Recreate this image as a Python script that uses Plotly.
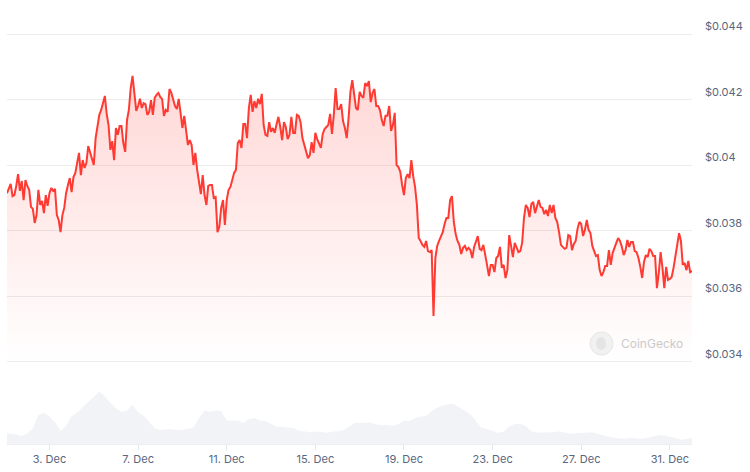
import plotly.graph_objects as go
import pandas as pd

# ---------------- data ----------------
price_start = "2023-12-01 02:00"
price_step = "2h"
prices = [
    0.03915, 0.03928, 0.03943, 0.03906, 0.03909, 0.03937, 0.03973, 0.03922, 0.03952, 0.03894,
    0.03955, 0.03937, 0.03925, 0.03873, 0.03867, 0.03824, 0.03848, 0.03925, 0.03879, 0.03891,
    0.03854, 0.03909, 0.03876, 0.03915, 0.03931, 0.03922, 0.03928, 0.03848, 0.03833, 0.03796,
    0.03848, 0.03870, 0.03915, 0.03940, 0.03961, 0.03918, 0.03964, 0.03977, 0.04010, 0.04038,
    0.03970, 0.04016, 0.03992, 0.04007, 0.04059, 0.04038, 0.04022, 0.04001, 0.04083, 0.04120,
    0.04154, 0.04169, 0.04190, 0.04212, 0.04157, 0.04123, 0.04047, 0.04074, 0.04016, 0.04114,
    0.04093, 0.04120, 0.04120, 0.04068, 0.04041, 0.04138, 0.04169, 0.04236, 0.04273, 0.04209,
    0.04166, 0.04181, 0.04203, 0.04175, 0.04190, 0.04187, 0.04154, 0.04163, 0.04199, 0.04154,
    0.04206, 0.04215, 0.04221, 0.04209, 0.04203, 0.04151, 0.04169, 0.04163, 0.04233, 0.04221,
    0.04199, 0.04181, 0.04172, 0.04203, 0.04160, 0.04114, 0.04151, 0.04108, 0.04062, 0.04077,
    0.04062, 0.04001, 0.04038, 0.03986, 0.03949, 0.03912, 0.03970, 0.03909, 0.03879, 0.03937,
    0.03940, 0.03940, 0.03900, 0.03903, 0.03796, 0.03812, 0.03870, 0.03894, 0.03818, 0.03894,
    0.03925, 0.03934, 0.03955, 0.03977, 0.03986, 0.04068, 0.04077, 0.04053, 0.04126, 0.04126,
    0.04083, 0.04175, 0.04215, 0.04163, 0.04196, 0.04175, 0.04203, 0.04187, 0.04218, 0.04123,
    0.04093, 0.04090, 0.04132, 0.04102, 0.04114, 0.04099, 0.04126, 0.04148, 0.04117, 0.04077,
    0.04132, 0.04117, 0.04080, 0.04093, 0.04148, 0.04099, 0.04099, 0.04154, 0.04151, 0.04132,
    0.04083, 0.04065, 0.04044, 0.04022, 0.04031, 0.04071, 0.04038, 0.04099, 0.04080, 0.04068,
    0.04053, 0.04096, 0.04111, 0.04117, 0.04123, 0.04157, 0.04096, 0.04154, 0.04236, 0.04172,
    0.04172, 0.04187, 0.04135, 0.04114, 0.04083, 0.04144, 0.04224, 0.04260, 0.04221, 0.04175,
    0.04169, 0.04224, 0.04212, 0.04206, 0.04251, 0.04242, 0.04257, 0.04193, 0.04221, 0.04233,
    0.04181, 0.04181, 0.04169, 0.04138, 0.04120, 0.04151, 0.04151, 0.04181, 0.04105, 0.04123,
    0.04160, 0.04001, 0.03995, 0.03980, 0.03940, 0.03909, 0.03961, 0.03973, 0.03961, 0.04016,
    0.03967, 0.03934, 0.03879, 0.03778, 0.03769, 0.03757, 0.03751, 0.03769, 0.03738, 0.03735,
    0.03741, 0.03540, 0.03717, 0.03754, 0.03769, 0.03784, 0.03796, 0.03821, 0.03839, 0.03839,
    0.03894, 0.03906, 0.03827, 0.03790, 0.03769, 0.03757, 0.03729, 0.03748, 0.03754, 0.03741,
    0.03748, 0.03741, 0.03717, 0.03751, 0.03766, 0.03784, 0.03745, 0.03741, 0.03757, 0.03720,
    0.03696, 0.03662, 0.03696, 0.03696, 0.03674, 0.03717, 0.03723, 0.03751, 0.03687, 0.03696,
    0.03656, 0.03680, 0.03787, 0.03754, 0.03720, 0.03763, 0.03748, 0.03735, 0.03738, 0.03763,
    0.03839, 0.03879, 0.03870, 0.03842, 0.03882, 0.03888, 0.03854, 0.03879, 0.03894, 0.03873,
    0.03870, 0.03851, 0.03864, 0.03845, 0.03879, 0.03854, 0.03879, 0.03839, 0.03827, 0.03796,
    0.03757, 0.03751, 0.03745, 0.03748, 0.03787, 0.03784, 0.03741, 0.03760, 0.03769, 0.03806,
    0.03827, 0.03821, 0.03784, 0.03803, 0.03833, 0.03803, 0.03793, 0.03754, 0.03741, 0.03723,
    0.03726, 0.03680, 0.03662, 0.03674, 0.03693, 0.03693, 0.03741, 0.03696, 0.03732, 0.03751,
    0.03763, 0.03778, 0.03769, 0.03751, 0.03726, 0.03741, 0.03772, 0.03751, 0.03766, 0.03766,
    0.03738, 0.03735, 0.03717, 0.03690, 0.03656, 0.03705, 0.03726, 0.03720, 0.03745, 0.03738,
    0.03723, 0.03723, 0.03625, 0.03671, 0.03735, 0.03687, 0.03625, 0.03690, 0.03650, 0.03653,
    0.03659, 0.03687, 0.03726, 0.03769, 0.03793, 0.03769, 0.03696, 0.03702, 0.03680, 0.03708,
    0.03674, 0.03677,
]

volume_start = "2023-12-01 00:00"
volume_step = "6h"
volumes = [
    110, 105, 95, 80, 105, 155, 290, 310, 275, 220,
    130, 180, 280, 315, 370, 425, 470, 525, 475, 410,
    360, 320, 335, 390, 320, 285, 220, 155, 140, 143,
    150, 140, 140, 153, 165, 260, 335, 320, 335, 330,
    235, 235, 235, 210, 250, 260, 235, 227, 200, 175,
    170, 165, 160, 135, 123, 117, 123, 125, 113, 120,
    130, 138, 170, 210, 210, 215, 215, 195, 190, 193,
    180, 200, 235, 230, 260, 275, 280, 330, 365, 385,
    400, 400, 365, 325, 298, 230, 163, 150, 128, 110,
    125, 175, 202, 200, 180, 125, 115, 112, 116, 120,
    126, 115, 103, 107, 110, 113, 117, 100, 85, 73,
    63, 53, 56, 60, 56, 50, 63, 77, 90, 85,
    74, 60, 43, 50, 60,
]

x_tick_dates = ["2023-12-03", "2023-12-07", "2023-12-11", "2023-12-15",
                "2023-12-19", "2023-12-23", "2023-12-27", "2023-12-31"]
x_tick_labels = ["3. Dec", "7. Dec", "11. Dec", "15. Dec",
                 "19. Dec", "23. Dec", "27. Dec", "31. Dec"]
y_tick_values = [0.034, 0.036, 0.038, 0.040, 0.042, 0.044]
y_tick_labels = ["$0.034", "$0.036", "$0.038", "$0.04", "$0.042", "$0.044"]

# ---------------- figure ----------------
price_times = pd.date_range(price_start, periods=len(prices), freq=price_step)
volume_times = pd.date_range(volume_start, periods=len(volumes), freq=volume_step)

LINE = "#ff3a33"
TXT = "#58667e"
GRID = "#ececec"
FONT = "Inter, Roboto, sans-serif"

fig = go.Figure()

fig.add_trace(go.Scatter(
    x=price_times, y=prices, mode="lines",
    line=dict(color=LINE, width=2),
    fill="tozeroy",
    fillgradient=dict(
        type="vertical",
        start=0.0340, stop=0.0432,
        colorscale=[[0, "rgba(255,58,51,0.0)"], [1, "rgba(255,58,51,0.21)"]],
    ),
    hoverinfo="skip", xaxis="x", yaxis="y",
))

fig.add_trace(go.Scatter(
    x=volume_times, y=volumes, mode="lines",
    line=dict(width=0, color="#f1f3f6"),
    fill="tozeroy", fillcolor="#f1f3f6",
    hoverinfo="skip", xaxis="x", yaxis="y2",
))

fig.update_layout(
    width=750, height=472,
    margin=dict(l=7, r=58, t=0, b=28),
    paper_bgcolor="white", plot_bgcolor="rgba(0,0,0,0)",
    showlegend=False,
    font=dict(family=FONT, size=11, color=TXT),
    xaxis=dict(
        range=["2023-12-01 02:00", "2024-01-01 00:00"],
        tickvals=x_tick_dates, ticktext=x_tick_labels,
        ticks="outside", ticklen=5, tickcolor="#e3e6ea", tickwidth=1,
        showline=True, linecolor="#eceef1", linewidth=1,
        showgrid=False, zeroline=False, anchor="y2",
        tickfont=dict(size=11, color=TXT),
    ),
    yaxis=dict(
        domain=[0, 1], range=[0.031492, 0.045047],
        side="right", anchor="x",
        tickvals=y_tick_values, ticktext=y_tick_labels,
        ticklabelposition="outside top",
        ticks="", showgrid=True, gridcolor=GRID, gridwidth=1,
        zeroline=False, showline=False,
        tickfont=dict(size=11, color=TXT),
        ticklabelstandoff=12,
    ),
    yaxis2=dict(
        domain=[0, 0.25], range=[0, 1110], visible=False,
        anchor="x", showgrid=False, zeroline=False,
    ),
    shapes=[
        dict(type="circle", xref="paper", yref="paper",
             x0=(590 - 7) / 685, x1=(613 - 7) / 685,
             y0=(444 - 355) / 444, y1=(444 - 332) / 444,
             fillcolor="#f1f1f1", line=dict(color="#e6e6e6", width=1), layer="above"),
        dict(type="circle", xref="paper", yref="paper",
             x0=(596 - 7) / 685, x1=(606 - 7) / 685,
             y0=(444 - 350) / 444, y1=(444 - 337) / 444,
             fillcolor="#e4e4e4", line=dict(width=0), layer="above"),
    ],
    annotations=[
        dict(text="CoinGecko", xref="paper", yref="paper",
             x=(619 - 7) / 685, y=(444 - 343) / 444,
             xanchor="left", yanchor="middle", showarrow=False,
             font=dict(family=FONT, size=12, color="#cacaca")),
    ],
)

fig.write_html("out.html", config={"displayModeBar": False},
               post_script="document.body.style.margin='0';")
